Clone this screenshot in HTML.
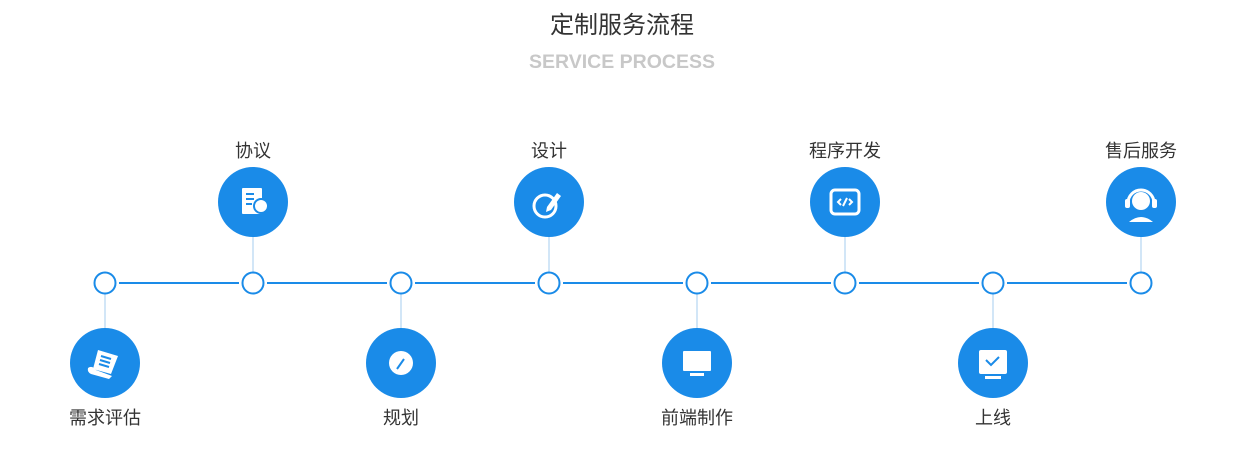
<!DOCTYPE html>
<html><head><meta charset="utf-8"><style>
html,body{margin:0;padding:0;background:#fff;width:1247px;height:468px;overflow:hidden}
svg{display:block}
text{font-family:"Liberation Sans","Noto Sans CJK SC",sans-serif}
</style></head><body>
<svg width="1247" height="468" viewBox="0 0 1247 468">
<text x="622" y="33" text-anchor="middle" font-size="24" fill="#333">定制服务流程</text>
<text x="622" y="68" text-anchor="middle" font-size="19.5" font-weight="bold" fill="#c8c8c8">SERVICE PROCESS</text>
<g stroke="#1a8be8" stroke-width="2">
<line x1="119" y1="283" x2="239" y2="283"/><line x1="267" y1="283" x2="387" y2="283"/>
<line x1="415" y1="283" x2="535" y2="283"/><line x1="563" y1="283" x2="683" y2="283"/>
<line x1="711" y1="283" x2="831" y2="283"/><line x1="859" y1="283" x2="979" y2="283"/>
<line x1="1007" y1="283" x2="1127" y2="283"/>
</g>
<g stroke="#d2e6f7" stroke-width="2">
<line x1="105" y1="294" x2="105" y2="330"/><line x1="401" y1="294" x2="401" y2="330"/>
<line x1="697" y1="294" x2="697" y2="330"/><line x1="993" y1="294" x2="993" y2="330"/>
<line x1="253" y1="236" x2="253" y2="272"/><line x1="549" y1="236" x2="549" y2="272"/>
<line x1="845" y1="236" x2="845" y2="272"/><line x1="1141" y1="236" x2="1141" y2="272"/>
</g>
<g fill="#fff" stroke="#1a8be8" stroke-width="2">
<circle cx="105" cy="283" r="10.5"/><circle cx="253" cy="283" r="10.5"/><circle cx="401" cy="283" r="10.5"/><circle cx="549" cy="283" r="10.5"/>
<circle cx="697" cy="283" r="10.5"/><circle cx="845" cy="283" r="10.5"/><circle cx="993" cy="283" r="10.5"/><circle cx="1141" cy="283" r="10.5"/>
</g>
<g fill="#1a8be8">
<circle cx="253" cy="202" r="35"/><circle cx="549" cy="202" r="35"/><circle cx="845" cy="202" r="35"/><circle cx="1141" cy="202" r="35"/>
<circle cx="105" cy="363" r="35"/><circle cx="401" cy="363" r="35"/><circle cx="697" cy="363" r="35"/><circle cx="993" cy="363" r="35"/>
</g>
<!-- icons -->
<g fill="#fff" stroke="none">
<!-- 需求评估 scroll -->
<path d="M98 350 l20 6 l-7 18 l-18 -5 z"/>
<path d="M88 368 q4 -3 8 2 l16 6 l-3 3 l-18 -5 q-4 -2 -3 -6z"/>
<!-- 协议 document -->
<rect x="242" y="188" width="20" height="26" rx="1"/>
<circle cx="261" cy="206" r="7" fill="#fff" stroke="#1a8be8" stroke-width="2"/>
<!-- 规划 -->
<circle cx="401" cy="363" r="12"/>
<!-- 设计 -->
<circle cx="545" cy="206" r="11" fill="none" stroke="#fff" stroke-width="3"/>
<path d="M547 207 l10 -14 l4 3 l-10 14 l-5 2 z"/>
<!-- 前端制作 monitor -->
<rect x="683" y="351" width="28" height="20" rx="1"/><rect x="690" y="373" width="14" height="3"/>
<!-- 程序开发 -->
<rect x="831" y="190" width="28" height="24" rx="4" fill="none" stroke="#fff" stroke-width="3"/>
<!-- 上线 -->
<rect x="979" y="350" width="28" height="24" rx="2"/><rect x="985" y="376" width="16" height="3"/>
<!-- 售后 headset -->
<circle cx="1141" cy="201" r="9"/>
<path d="M1128 203 a13 13 0 0 1 26 0" fill="none" stroke="#fff" stroke-width="3"/>
<rect x="1125" y="199" width="5" height="9" rx="2"/><rect x="1152" y="199" width="5" height="9" rx="2"/>
<path d="M1129 222 q12 -10 24 0z"/>
</g>
<g stroke="#1a8be8" stroke-width="2" fill="none">
<path d="M101 356 l10 3 M100 360 l10 3 M99 364 l10 3"/>
<path d="M246 194 h8 M246 199 h8 M246 204 h6"/>
<path d="M397 369 l7 -10"/>
<path d="M841 199 l-3 3 l3 3 M849 199 l3 3 l-3 3 M847 198 l-4 8" stroke="#fff"/>
<path d="M986 360 l5 5 l8 -8"/>
</g>
<g font-size="18" fill="#333" text-anchor="middle">
<text x="253" y="157">协议</text><text x="549" y="157">设计</text><text x="845" y="157">程序开发</text><text x="1141" y="157">售后服务</text>
<text x="105" y="424">需求评估</text><text x="401" y="424">规划</text><text x="697" y="424">前端制作</text><text x="993" y="424">上线</text>
</g>
</svg>
</body></html>
